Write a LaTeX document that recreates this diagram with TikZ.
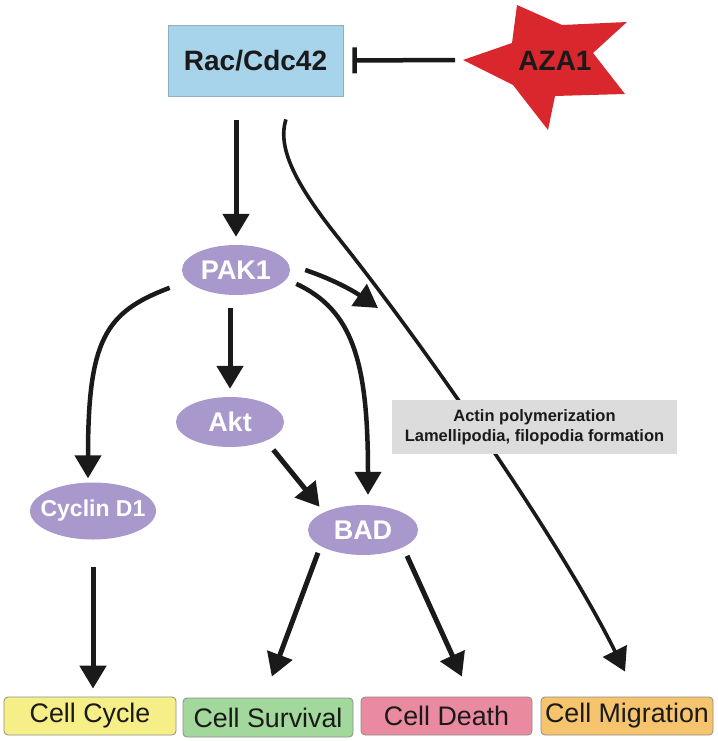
\documentclass[tikz,border=0pt]{standalone}
\usepackage{fontspec}
\setmainfont{Liberation Sans}
\usetikzlibrary{arrows.meta,shapes.geometric}
\definecolor{racblue}{HTML}{A7D3EB}
\definecolor{racframe}{HTML}{8FAFC2}
\definecolor{pakviolet}{HTML}{A898CB}
\definecolor{azared}{HTML}{D9272D}
\definecolor{actgray}{HTML}{DCDCDC}
\definecolor{cycyellow}{HTML}{F6EF88}
\definecolor{survgreen}{HTML}{A2D89B}
\definecolor{deathpink}{HTML}{EA8AA1}
\definecolor{migorange}{HTML}{F6C46D}
\definecolor{ink}{HTML}{1A1A1A}

\begin{document}
\begin{tikzpicture}[x=1pt,y=-1pt,
  prot/.style={ellipse, fill=pakviolet, text=white, inner sep=0pt, font=\fontsize{27}{30}\selectfont\bfseries},
  outc/.style={draw=black!45, line width=0.8pt, rounded corners=4pt, minimum height=38pt, inner xsep=2pt, text=ink, font=\fontsize{26.8}{30}\selectfont},
  arr/.style={ink, line width=5pt, -{Triangle[length=23pt,width=26pt]}}]
\useasboundingbox (0,0) rectangle (717,741);

\node[draw=racframe, line width=0.8pt, fill=racblue, minimum width=175pt, minimum height=71pt, text=ink, font=\fontsize{28}{30}\selectfont\bfseries] (rac) at (255.5,60.5) {Rac/Cdc42};
\coordinate (azatip) at (463,60);
\fill[azared] (azatip) -- (512,43) -- (517,5) -- (562,25) -- (627,22) -- (593,53) -- (625,94) -- (555,96) -- (548,130) -- (513,85) -- cycle;
\node[text=ink, font=\fontsize{28}{30}\selectfont\bfseries] (aza) at (555,61) {AZA1};

\node[prot, minimum width=108pt, minimum height=50pt] (pak) at (236,270) {PAK1};
\node[prot, minimum width=108pt, minimum height=50pt] (akt) at (230,422) {Akt};
\node[prot, minimum width=126pt, minimum height=57pt, font=\fontsize{23}{26}\selectfont\bfseries] (cyc) at (93,511) {\makebox[0pt]{Cyclin D1}};
\node[prot, minimum width=110pt, minimum height=50pt] (bad) at (363,530) {BAD};

\node[outc, fill=cycyellow, minimum width=172pt] (cycle) at (90,716) {Cell Cycle};
\node[outc, fill=survgreen, minimum width=170pt, minimum height=39pt] (surv) at (268,717.5) {Cell Survival};
\node[outc, fill=deathpink, minimum width=171pt] (death) at (446.5,716) {Cell Death};
\node[outc, fill=migorange, minimum width=172pt] (migr) at (627,716) {Cell Migration};

\draw[ink, line width=4.5pt, -{Bar[width=26pt]}, shorten <=8pt, shorten >=9pt] (azatip) -- (rac.east);
\draw[arr, shorten <=24pt, shorten >=8pt] (rac.south -| pak.north) -- (pak.north);
\draw[arr, shorten <=13pt, shorten >=8pt] (pak.south -| akt.north) -- (akt.north);
\draw[arr, line width=4.5pt, shorten >=4pt] ([xshift=-28pt]pak.south west) .. controls (105,312) and (88,340) .. ([xshift=-5pt]cyc.north);
\draw[arr, line width=4.5pt, shorten >=10pt] ([xshift=22pt,yshift=4pt]pak.south east) .. controls (352,310) and (368,360) .. ([xshift=5pt]bad.north);
\coordinate (actdir) at (378,308);
\draw[arr, line width=4.5pt] ([xshift=15pt]pak.east) .. controls (335,280) and (355,292) .. (actdir);
\draw[arr, shorten >=7pt] ([xshift=5pt,yshift=-10pt]akt.south east) -- (bad.north west);
\draw[arr, shorten <=27.5pt, shorten >=8pt] (cyc.south) -- (cyc.south |- cycle.north);
\draw[arr, shorten >=22.4pt] ([xshift=-6pt,yshift=-5pt]bad.south west) -- ([xshift=-4pt]surv.north);
\draw[arr, shorten >=22pt] ([xshift=5pt,yshift=-8pt]bad.south east) -- ([xshift=24.5pt]death.north);
\draw[arr, line width=3.6pt] ([xshift=30.5pt,yshift=-23pt]rac.south) .. controls (276,150) and (300,190) .. (340,240) .. controls (420,340) and (560,540) .. ([xshift=-2pt,yshift=25pt]migr.north);

\node[fill=actgray, minimum width=285pt, minimum height=54pt, align=center, text=ink, font=\fontsize{16.5}{20}\selectfont\bfseries] (actin) at (534.5,427) {Actin polymerization\\Lamellipodia, filopodia formation};
\end{tikzpicture}
\end{document}
